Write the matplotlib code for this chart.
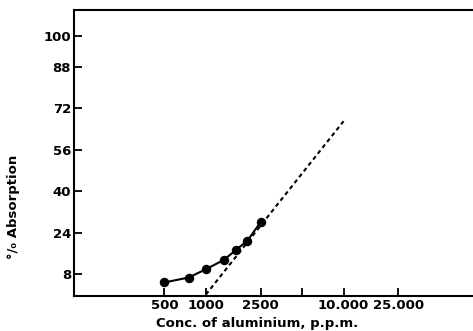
import matplotlib

matplotlib.use("Agg")
import matplotlib.pyplot as plt
from matplotlib.ticker import FixedLocator, FixedFormatter, NullLocator

# measured points (solid curve)
conc_ppm = [500, 750, 1000, 1350, 1650, 2000, 2500]
absorption = [4.7, 6.6, 9.8, 13.4, 17.2, 20.8, 28.0]

# extrapolated straight portion (dashed)
line_conc = [1000, 10000]
line_absorption = [0.0, 67.0]

x_ticks = [500, 1000, 2500, 5000, 10000, 25000]
x_tick_labels = ["500", "1000", "2500", "", "10.000", "25.000"]
y_ticks = [8, 24, 40, 56, 72, 88, 100]

fig = plt.figure(figsize=(4.73, 3.31), dpi=100)
ax = fig.add_axes([0.156, 0.106, 0.844, 0.864])

ax.plot(line_conc, line_absorption, color="black", linewidth=1.5,
        linestyle=(0, (2.0, 1.6)))
ax.plot(conc_ppm, absorption, color="black", linewidth=1.5,
        marker="o", markersize=5.8)

ax.set_xscale("log")
ax.set_xlim(110, 87000)
ax.set_ylim(-0.5, 110)

ax.xaxis.set_major_locator(FixedLocator(x_ticks))
ax.xaxis.set_major_formatter(FixedFormatter(x_tick_labels))
ax.xaxis.set_minor_locator(NullLocator())
ax.set_yticks(y_ticks)

ax.tick_params(axis="both", direction="in", length=6, width=1.3,
               labelsize=9.5, pad=2)
for lab in ax.get_xticklabels() + ax.get_yticklabels():
    lab.set_fontweight("bold")

ax.spines["right"].set_visible(False)
for side in ("left", "bottom", "top"):
    ax.spines[side].set_linewidth(1.5)

ax.set_xlabel("Conc. of aluminium, p.p.m.", fontsize=9.5, fontweight="bold")
ax.xaxis.set_label_coords(0.46, -0.075)
ax.set_ylabel("°/₀ Absorption", fontsize=9.5, fontweight="bold")
ax.yaxis.set_label_coords(-0.135, 0.31)

fig.savefig("out.png", dpi=100, facecolor="white")
